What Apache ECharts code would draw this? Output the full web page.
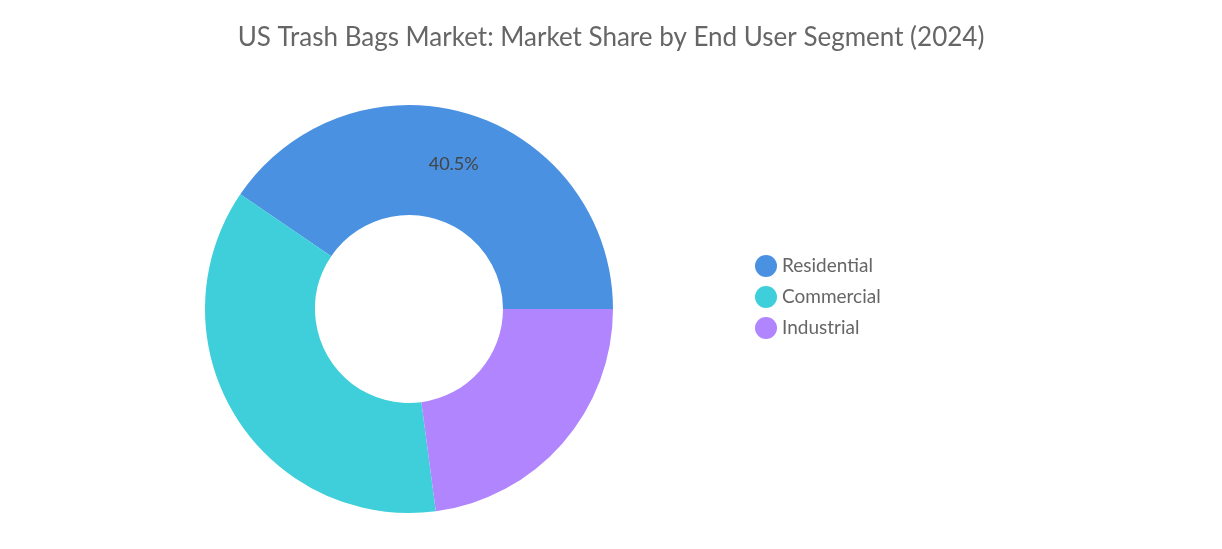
<!DOCTYPE html>
<html>
<head>
<meta charset="utf-8">
<script src="https://cdn.jsdelivr.net/npm/echarts@6/dist/echarts.min.js"></script>
<style>
html, body { margin: 0; padding: 0; background: #fff; }
#chart { width: 1222px; height: 549px; }
</style>
</head>
<body>
<div id="chart"></div>
<script>
const segments = ['Residential', 'Commercial', 'Industrial'];
const shares = [40.5, 36.6, 22.9];
const colors = ['#4a91e2', '#3ecfda', '#b085fd'];
const labelled = ['Residential']; // 只有第一块显示百分比

const chart = echarts.init(document.getElementById('chart'));
chart.setOption({
    title: {
        text: 'US Trash Bags Market: Market Share by End User Segment (2024)',
        left: 'center',
        top: 20,
        textStyle: { color: '#666', fontSize: 26, fontWeight: 'normal', fontFamily: 'Lato' }
    },
    legend: {
        orient: 'vertical',
        left: 750,
        top: 250,
        icon: 'circle',
        itemWidth: 22,
        itemHeight: 22,
        itemGap: 9,
        textStyle: { color: '#666', fontSize: 19, fontFamily: 'Lato' },
        data: segments
    },
    series: [{
        type: 'pie',
        center: [409, 309],
        radius: [94, 204],
        startAngle: 0,
        clockwise: false,
        label: { show: false },
        labelLine: { show: false },
        data: segments.map((name, i) => ({
            name,
            value: shares[i],
            itemStyle: { color: colors[i] },
            label: {
                show: labelled.includes(name),
                position: 'inside',
                formatter: '{d}%',
                color: '#444',
                fontSize: 18,
                fontFamily: 'Lato'
            }
        }))
    }]
});
</script>
</body>
</html>
